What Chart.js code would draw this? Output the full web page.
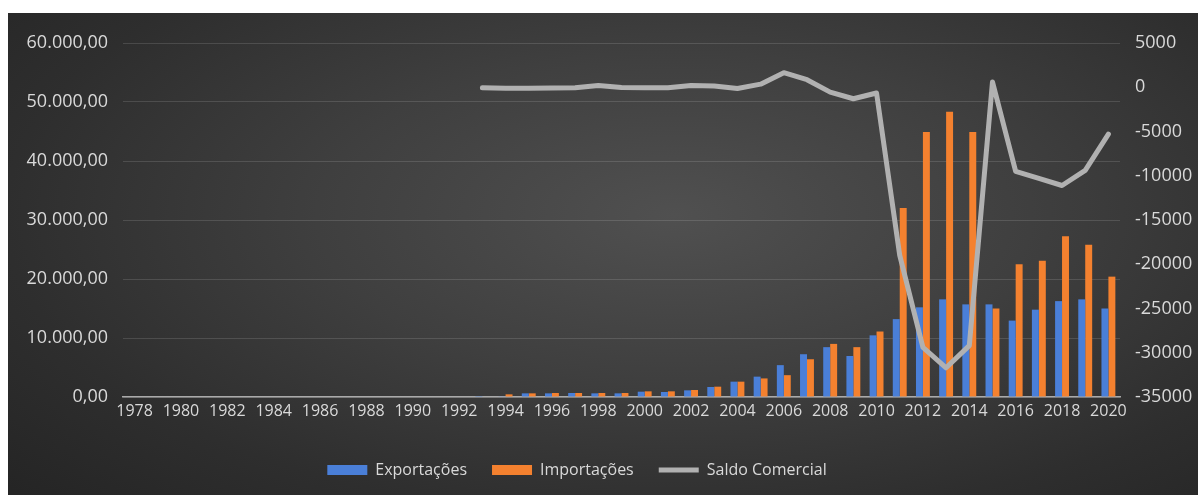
<!DOCTYPE html>
<html>
<head>
<meta charset="utf-8">
<script src="https://cdn.jsdelivr.net/npm/chart.js@4/dist/chart.umd.min.js"></script>
<style>
  html, body { margin: 0; padding: 0; background: #ffffff; }
  #frame {
    position: absolute; left: 8px; top: 13px; width: 1190px; height: 482px;
    background: radial-gradient(ellipse 75% 85% at 56% 42%, #505050 0%, #3f3f3f 40%, #2e2e2e 75%, #252525 100%);
  }
  canvas { display: block; }
</style>
</head>
<body>
<div id="frame"><canvas id="c" width="1190" height="482"></canvas></div>
<script>
// Anos (categorias do eixo X)
const anos = ['1978','1979','1980','1981','1982','1983','1984','1985','1986','1987','1988','1989','1990','1991','1992',
  '1993','1994','1995','1996','1997','1998','1999','2000','2001','2002','2003','2004','2005','2006','2007','2008','2009',
  '2010','2011','2012','2013','2014','2015','2016','2017','2018','2019','2020'];

// Exportações (1978–1992 sem registro)
const exportacoes = [null,null,null,null,null,null,null,null,null,null,null,null,null,null,null,
  30, 60, 620, 620, 680, 620, 620, 900, 850, 1130, 1700, 2600, 3450, 5400, 7250, 8450, 6950,
  10450, 13200, 15200, 16550, 15700, 15700, 12950, 14800, 16250, 16550, 15000];

// Importações
const importacoes = [null,null,null,null,null,null,null,null,null,null,null,null,null,null,null,
  80, 450, 620, 680, 680, 680, 680, 960, 960, 1190, 1750, 2600, 3150, 3700, 6400, 9000, 8450,
  11100, 32050, 44900, 48350, 44900, 15000, 22500, 23100, 27250, 25800, 20400];

// Saldo Comercial (eixo direito)
const saldoComercial = [null,null,null,null,null,null,null,null,null,null,null,null,null,null,null,
  -50, -100, -100, -80, -50, 200, -40, -60, -50, 200, 150, -150, 350, 1650, 850, -550, -1300,
  -650, -19000, -29400, -31700, -29200, 600, -9500, -10300, -11100, -9400, -5300];

// Rótulos dos eixos
const rotulosEsquerda = ['0,00','10.000,00','20.000,00','30.000,00','40.000,00','50.000,00','60.000,00'];
const rotulosDireita = ['-35000','-30000','-25000','-20000','-15000','-10000','-5000','0','5000'];
const ordemLegenda = ['Exportações','Importações','Saldo Comercial'];

const corTexto = '#d9d9d9';
const familia = "'Open Sans', 'Noto Sans', sans-serif";
const fonteX = { family: familia, size: 16 };
const fonteY = { family: familia, size: 18 };

// Desloca a legenda um pouco para a esquerda
const ajusteLegenda = {
  id: 'ajusteLegenda',
  afterLayout(chart) {
    if (chart.legend) { chart.legend.left -= 26; chart.legend.right -= 26; }
  }
};

new Chart(document.getElementById('c'), {
  data: {
    labels: anos,
    datasets: [
      {
        type: 'line', label: 'Saldo Comercial', data: saldoComercial, yAxisID: 'yDir',
        borderColor: '#b1b1b1', backgroundColor: '#b1b1b1', borderWidth: 5,
        pointRadius: 0, pointStyle: 'line', tension: 0,
        borderJoinStyle: 'round', borderCapStyle: 'round', order: 0
      },
      {
        type: 'bar', label: 'Exportações', data: exportacoes, yAxisID: 'yEsq',
        backgroundColor: '#4a7fd8', pointStyle: 'rect',
        categoryPercentage: 0.6, barPercentage: 1.0, order: 1
      },
      {
        type: 'bar', label: 'Importações', data: importacoes, yAxisID: 'yEsq',
        backgroundColor: '#f4812f', pointStyle: 'rect',
        categoryPercentage: 0.6, barPercentage: 1.0, order: 1
      }
    ]
  },
  plugins: [ajusteLegenda],
  options: {
    responsive: false,
    animation: false,
    layout: { padding: { top: 30, left: 0, right: 0, bottom: 7 } },
    plugins: {
      tooltip: { enabled: false },
      legend: {
        position: 'bottom',
        labels: {
          color: corTexto, font: fonteX, boxWidth: 40, boxHeight: 10, padding: 25,
          usePointStyle: true, pointStyleWidth: 40,
          sort: (a, b) => ordemLegenda.indexOf(a.text) - ordemLegenda.indexOf(b.text)
        }
      }
    },
    scales: {
      x: {
        grid: { display: false, drawTicks: false },
        border: { color: '#aaaaaa', width: 1.5 },
        ticks: {
          color: corTexto, font: fonteX, autoSkip: false, maxRotation: 0, padding: 5,
          callback: (v, i) => (i % 2 === 0 ? anos[i] : '')
        },
        afterFit: s => { s.height = 40; }
      },
      yEsq: {
        position: 'left', min: 0, max: 60000,
        grid: { color: 'rgba(255,255,255,0.13)', drawTicks: false },
        border: { display: false },
        ticks: { stepSize: 10000, color: corTexto, font: fonteY, padding: 15,
          callback: (v, i) => rotulosEsquerda[i] },
        afterFit: s => { s.width = 115; }
      },
      yDir: {
        position: 'right', min: -35000, max: 5000,
        grid: { display: false, drawTicks: false },
        border: { display: false },
        ticks: { stepSize: 5000, color: corTexto, font: fonteY, padding: 15,
          callback: (v, i) => rotulosDireita[i] },
        afterFit: s => { s.width = 78; }
      }
    }
  }
});
</script>
</body>
</html>
